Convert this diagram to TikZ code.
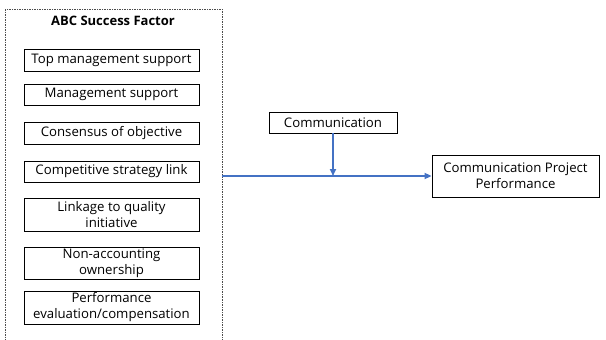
\documentclass[tikz,border=0pt]{standalone}
\usepackage{fontspec}
\setmainfont{Open Sans}
\usetikzlibrary{arrows.meta}
\definecolor{linkblue}{HTML}{4472C4}
\tikzset{
  factor/.style={draw=black, line width=0.8pt, fill=white, minimum width=175pt,
    align=center, inner sep=1pt, font=\fontsize{13.2}{16}\selectfont},
  group/.style={draw=black!70, line width=0.8pt, dash pattern=on 1.5pt off 1pt},
  link/.style={draw=linkblue, line width=1.6pt, -{Triangle[length=7pt,width=6pt]}},
}
\begin{document}
\begin{tikzpicture}[x=1pt,y=-1pt]
  \useasboundingbox (0,0) rectangle (606,340);
  % dashed frame around the success factors
  \draw[group] (5,9) rectangle (222,345);
  \node[font=\bfseries\fontsize{13}{15}\selectfont] (title) at (113,21) {ABC Success Factor};
  % success factor boxes
  \node[factor, minimum height=22pt] (f1) at (111.5,60) {Top management support};
  \node[factor, minimum height=21pt] (f2) at (111.5,94.5) {Management support};
  \node[factor, minimum height=22pt] (f3) at (111.5,133) {Consensus of objective};
  \node[factor, minimum height=21pt] (f4) at (111.5,171.5) {Competitive strategy link};
  \node[factor, minimum height=33pt] (f5) at (111.5,214.5) {Linkage to quality\\initiative};
  \node[factor, minimum height=32pt] (f6) at (111.5,263) {Non-accounting\\ownership};
  \node[factor, minimum height=33pt] (f7) at (111.5,307.5) {Performance\\evaluation/compensation};
  % moderator and outcome
  \node[factor, minimum width=128pt, minimum height=21pt] (comm) at (333,122.5) {Communication};
  \node[factor, minimum width=167pt, minimum height=42pt] (perf) at (515.5,176) {Communication Project\\Performance};
  % connectors
  \coordinate (src) at (222,176);
  \coordinate (join) at (comm.south |- src);
  \draw[link] (src) -- (perf.west);
  \draw[link] (comm.south) -- (join);
\end{tikzpicture}
\end{document}
